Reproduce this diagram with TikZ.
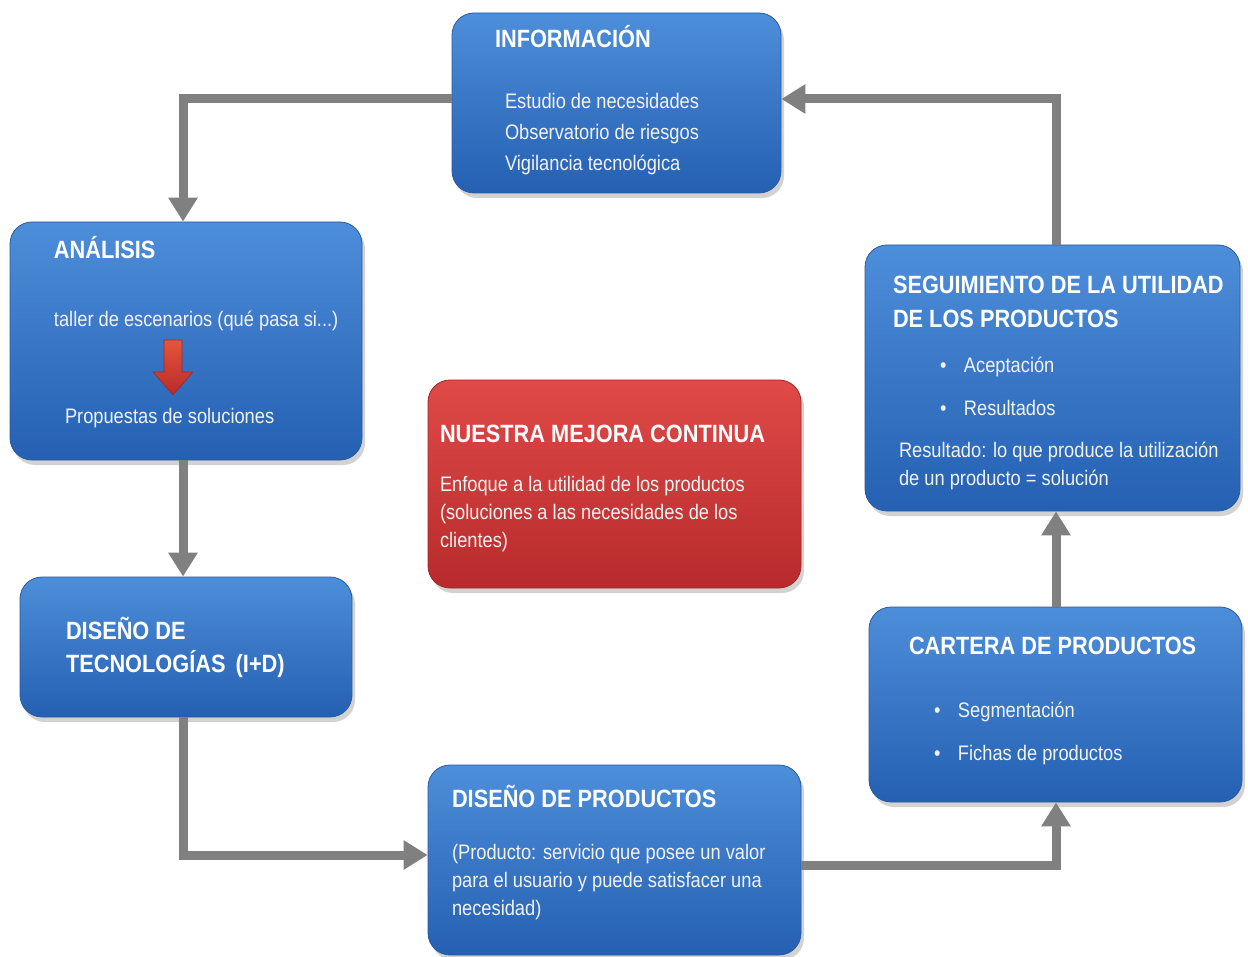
\documentclass[tikz,border=0pt]{standalone}
\usepackage{fontspec}
\setmainfont{Liberation Sans}[FakeStretch=0.87]
\usetikzlibrary{positioning, arrows.meta, shadows}
\definecolor{boxtop}{HTML}{4D8EDA}
\definecolor{boxbot}{HTML}{2560B2}
\definecolor{boxedge}{HTML}{2A5B9E}
\definecolor{redtop}{HTML}{E04A48}
\definecolor{redbot}{HTML}{B82A2C}
\definecolor{rededge}{HTML}{9E2828}
\definecolor{flowgray}{HTML}{808080}
\definecolor{bodytext}{HTML}{F2F2F2}
\tikzstyle{box} = [rectangle, rounded corners=11pt, draw=boxedge, line width=0.4pt, top color=boxtop, bottom color=boxbot, drop shadow={shadow xshift=1.5pt, shadow yshift=-2.5pt, opacity=0.35}]
\tikzstyle{redbox} = [box, draw=rededge, top color=redtop, bottom color=redbot]
\tikzstyle{title} = [anchor=base west, inner sep=0pt, text=white, align=left, font=\fontsize{12.5}{17}\selectfont\bfseries]
\tikzstyle{body} = [anchor=base west, inner sep=0pt, text=bodytext, align=left, font=\fontsize{10.5}{14}\selectfont]
\tikzstyle{flow} = [line width=4.5pt, draw=flowgray, -{Triangle[length=12pt, width=14pt]}]
\newcommand{\bul}{\makebox[12pt][l]{\textbullet}}

\begin{document}
\begin{tikzpicture}[x=0.5pt, y=-0.5pt]
    \useasboundingbox[fill=white] (0,0) rectangle (1248,957);

    % Boxes
    \node (info) [box, minimum width=164.5pt, minimum height=90pt] at (616.5,103) {};
    \node (analisis) [box, minimum width=176pt, minimum height=119pt] at (186,341) {};
    \node (tec) [box, minimum width=166pt, minimum height=70pt] at (186,647) {};
    \node (mejora) [redbox, minimum width=186.5pt, minimum height=104pt] at (614.5,484) {};
    \node (prod) [box, minimum width=186.5pt, minimum height=95pt] at (614.5,860) {};
    \node (cartera) [box, minimum width=186.5pt, minimum height=97.5pt] at (1055.5,704.5) {};
    \node (seg) [box, minimum width=187.5pt, minimum height=133pt] at (1052.5,378) {};

    % Texts (base = last line)
    \node (infot) [title] at ([shift={(43,35)}]info.north west) {INFORMACIÓN};
    \node (infob) [body, font=\fontsize{10.5}{15.5}\selectfont] at ([shift={(53,158)}]info.north west)
        {Estudio de necesidades\\Observatorio de riesgos\\Vigilancia tecnológica};

    \node (analisist) [title] at ([shift={(44,37)}]analisis.north west) {ANÁLISIS};
    \node (taller) [body] at ([shift={(44,105)}]analisis.north west) {taller de escenarios (qué pasa si...)};
    \node (propuestas) [body] at ([shift={(55,202)}]analisis.north west) {Propuestas de soluciones};
    \shade[top color=redtop!80!orange, bottom color=redbot, draw=rededge, line width=0.3pt]
        (164,340) -- (182,340) -- (182,372) -- (193,372) -- (173,395) -- (153,372) -- (164,372) -- cycle;

    \node (tect) [title, font=\fontsize{12.5}{16.5}\selectfont\bfseries] at ([shift={(46,96)}]tec.north west)
        {DISEÑO DE\\TECNOLOGÍAS \,(I+D)};

    \node (mejorat) [title] at ([shift={(12,63)}]mejora.north west) {NUESTRA MEJORA CONTINUA};
    \node (mejorab) [body] at ([shift={(12,168)}]mejora.north west)
        {Enfoque a la utilidad de los productos\\(soluciones a las necesidades de los\\clientes)};

    \node (segt) [title] at ([shift={(28,83)}]seg.north west) {SEGUIMIENTO DE LA UTILIDAD\\DE LOS PRODUCTOS};
    \node (segl) [body, font=\fontsize{10.5}{21.5}\selectfont] at ([shift={(75,171)}]seg.north west)
        {\bul Aceptación\\\bul Resultados};
    \node (segb) [body] at ([shift={(34,241)}]seg.north west)
        {Resultado: lo que produce la utilización\\de un producto = solución};

    \node (carterat) [title] at ([shift={(40,48)}]cartera.north west) {CARTERA DE PRODUCTOS};
    \node (carteral) [body, font=\fontsize{10.5}{21.5}\selectfont] at ([shift={(65,154)}]cartera.north west)
        {\bul Segmentación\\\bul Fichas de productos};

    \node (prodt) [title] at ([shift={(24,43)}]prod.north west) {DISEÑO DE PRODUCTOS};
    \node (prodb) [body] at ([shift={(24,151)}]prod.north west)
        {(Producto: servicio que posee un valor\\para el usuario y puede satisfacer una\\necesidad)};

    % Connectors
    \coordinate (c1) at (183,99);
    \coordinate (c2) at (183,855);
    \coordinate (c3) at (1056,865);
    \coordinate (c4) at (1056,99);
    \draw [flow] (info.west |- c1) -- (c1) -- (c1 |- analisis.north);
    \draw [flow] (c1 |- analisis.south) -- (c1 |- tec.north);
    \draw [flow] (c2 |- tec.south) -- (c2) -- (c2 -| prod.west);
    \draw [flow] (c3 -| prod.east) -- (c3) -- (c3 |- cartera.south);
    \draw [flow] (c3 |- cartera.north) -- (c3 |- seg.south);
    \draw [flow] (c4 |- seg.north) -- (c4) -- (c4 -| info.east);
\end{tikzpicture}
\end{document}
